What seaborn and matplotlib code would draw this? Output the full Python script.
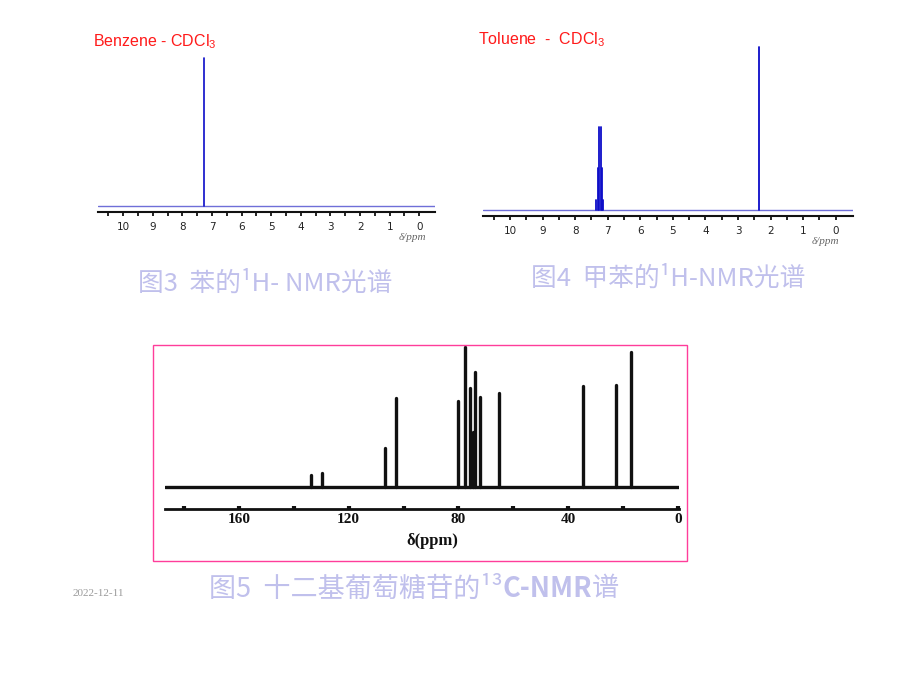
import numpy as np
import pandas as pd
import matplotlib
matplotlib.use("Agg")
import matplotlib.pyplot as plt
import seaborn as sns
from matplotlib.patches import Rectangle

# ---------------- data ----------------
benzene_ppm = [7.26]
benzene_int = [148]

toluene_ppm = [7.35, 7.31, 7.27, 7.22, 7.18, 7.14, 2.37]
toluene_int = [10, 42, 83, 83, 42, 10, 163]

c13_ppm = [133.9, 129.8, 106.7, 102.8, 80.3, 77.5, 75.9, 74.6, 74.0, 72.3, 65.1, 34.6, 22.7, 17.1]
c13_int = [12, 14, 39, 89, 86, 140, 99, 55, 115, 90, 94, 101, 102, 135]

h_ticks = [0, 1, 2, 3, 4, 5, 6, 7, 8, 9, 10]
h_minor = [0.5, 1.5, 2.5, 3.5, 4.5, 5.5, 6.5, 7.5, 8.5, 9.5, 10.5]
c13_ticks = [160, 120, 80, 40, 0]
c13_minor = [180, 140, 100, 60, 20]

title_benzene = r"Benzene - CDCl$_3$"
title_toluene = r"Toluene  -  CDCl$_3$"
cap3 = "图3  苯的¹H- NMR光谱"
cap4 = "图4  甲苯的¹H-NMR光谱"
cap5_parts = ["图5  十二基葡萄糖苷的¹³", "C-NMR", "谱"]
cap5_weights = ["normal", "bold", "normal"]
date_text = "2022-12-11"
h_xlabel = "δ/ppm"
c_xlabel = "δ(ppm)"

# ---------------- style ----------------
sns.set_theme(style="white")
plt.rcParams["font.family"] = ["DejaVu Sans"]
plt.rcParams["mathtext.fontset"] = "custom"
plt.rcParams["mathtext.rm"] = "Liberation Sans"
plt.rcParams["mathtext.default"] = "regular"

W, H = 920, 690
fig = plt.figure(figsize=(W / 100, H / 100), dpi=100)
fig.patch.set_facecolor("white")


def rect(x0, y0, x1, y1):
    return [x0 / W, 1 - y1 / H, (x1 - x0) / W, (y1 - y0) / H]


def peaks_df(ppm, inten):
    rows = []
    for i, (p, v) in enumerate(zip(ppm, inten)):
        rows.append((i, p, 0.0))
        rows.append((i, p, v))
    return pd.DataFrame(rows, columns=["pk", "ppm", "I"])


def fx(x):
    return x / W


def fy(y):
    return 1 - y / H


PEAK_BLUE = "#0c0cc8"
BASE_BLUE = "#6f6fd8"

# ---------- panel 1: benzene ----------
ax1 = fig.add_axes(rect(98.3, 50, 435, 212.3))
ax1.axhline(0, color=BASE_BLUE, lw=1.0, zorder=1)
sns.lineplot(data=peaks_df(benzene_ppm, benzene_int), x="ppm", y="I", units="pk",
             estimator=None, sort=False, color=PEAK_BLUE, lw=1.2, ax=ax1, legend=False)
ax1.set_xlim(10.84, -0.53)
ax1.set_ylim(-6.3, 156)

# ---------- panel 2: toluene ----------
ax2 = fig.add_axes(rect(482.7, 40, 852.7, 216))
ax2.axhline(0, color=BASE_BLUE, lw=1.0, zorder=1)
sns.lineplot(data=peaks_df(toluene_ppm, toluene_int), x="ppm", y="I", units="pk",
             estimator=None, sort=False, color=PEAK_BLUE, lw=1.3, ax=ax2, legend=False)
ax2.set_xlim(10.84, -0.52)
ax2.set_ylim(-6, 170)

for ax in (ax1, ax2):
    ax.set_facecolor("none")
    for s in ("top", "left", "right"):
        ax.spines[s].set_visible(False)
    ax.spines["bottom"].set_color("#111111")
    ax.spines["bottom"].set_linewidth(1.5)
    ax.set_yticks([])
    ax.set_xticks(h_ticks)
    ax.set_xticklabels([str(t) for t in h_ticks])
    ax.set_xticks(h_minor, minor=True)
    ax.tick_params(axis="x", which="both", direction="out", length=3, width=1.3,
                   color="#111111", labelsize=7.5, pad=4, labelcolor="#222222", bottom=True)
    ax.set_xlabel("")
    ax.set_ylabel("")

fig.text(fx(412), fy(238), h_xlabel, ha="center", va="center", fontsize=8,
         family="Liberation Serif", style="italic", color="#666666")
fig.text(fx(825), fy(241), h_xlabel, ha="center", va="center", fontsize=8,
         family="Liberation Serif", style="italic", color="#666666")

fig.text(fx(93), fy(42), title_benzene, ha="left", va="center", fontsize=11.5,
         family="Liberation Sans", color="#ff1a1a")
fig.text(fx(478), fy(40), title_toluene, ha="left", va="center", fontsize=11.5,
         family="Liberation Sans", color="#ff1a1a")

# ---------- panel 3: 13C ----------
fig.patches.append(Rectangle((fx(152.7), fy(561)), (687 - 152.7) / W, (561 - 345) / H,
                             transform=fig.transFigure, fill=False,
                             edgecolor="#ff3d9a", lw=1.0))

ax3 = fig.add_axes(rect(165, 342, 679, 509))
ax3.set_facecolor("none")
ax3.axhline(0, color="#111111", lw=2.4, zorder=1)
sns.lineplot(data=peaks_df(c13_ppm, c13_int), x="ppm", y="I", units="pk",
             estimator=None, sort=False, color="#111111", lw=2.4, ax=ax3, legend=False)
ax3.set_xlim(186.95, -0.36)
ax3.set_ylim(-22, 145)
for s in ("top", "left", "right"):
    ax3.spines[s].set_visible(False)
ax3.spines["bottom"].set_color("#111111")
ax3.spines["bottom"].set_linewidth(2.0)
ax3.set_yticks([])
ax3.set_xticks(c13_ticks)
ax3.set_xticklabels([str(t) for t in c13_ticks], fontfamily="Liberation Serif",
                    fontweight="bold")
ax3.set_xticks(c13_minor, minor=True)
ax3.tick_params(axis="x", which="both", direction="in", length=2.5, width=3,
                color="#111111", labelsize=11, pad=3, labelcolor="#111111", bottom=True)
ax3.set_xlabel("")
ax3.set_ylabel("")
fig.text(fx(432), fy(541), c_xlabel, ha="center", va="center", fontsize=12,
         family="Liberation Serif", fontweight="bold", color="#111111")

# ---------- captions ----------
cjk = ["Noto Sans CJK SC", "DejaVu Sans"]
CAP = "#c0c0ec"
fig.text(fx(265), fy(284), cap3, ha="center", va="center", fontsize=18.5, family=cjk, color=CAP)
fig.text(fx(668), fy(279), cap4, ha="center", va="center", fontsize=18.5, family=cjk, color=CAP)

# caption 5 assembled from pieces (bold Latin part)
renderer = fig.canvas.get_renderer()
pieces = []
for txt, wt in zip(cap5_parts, cap5_weights):
    t = fig.text(0, fy(589), txt, ha="left", va="center", fontsize=19.5,
                 family=cjk, fontweight=wt, color=CAP)
    pieces.append(t)
widths = [p.get_window_extent(renderer).width for p in pieces]
total = sum(widths)
x = 414 - total / 2
for p, w in zip(pieces, widths):
    p.set_x(fx(x))
    x += w

fig.text(fx(73), fy(594), date_text, ha="left", va="center", fontsize=8,
         family="Liberation Serif", color="#9a9a9a")

fig.savefig("out.png", dpi=100, facecolor="white")
